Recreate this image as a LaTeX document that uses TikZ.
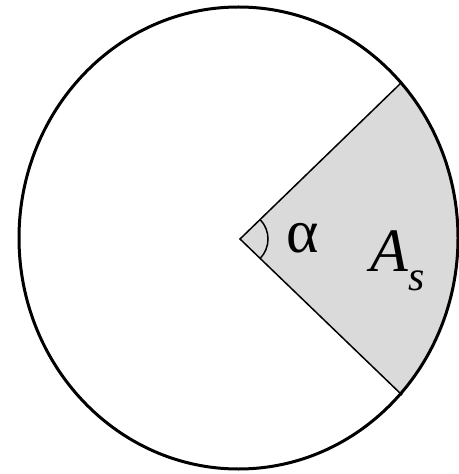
\documentclass[tikz,border=0pt]{standalone}
\usepackage{fontspec}
\setmainfont{Liberation Serif}
\begin{document}
\begin{tikzpicture}[x=1bp,y=-1bp,
  rim/.style={line width=3bp,black},
  ray/.style={line width=1.5bp,black},
  lbl/.style={inner sep=0pt,font=\fontsize{62}{62}\selectfont\itshape},
  grk/.style={inner sep=0pt,font=\fontsize{62}{62}\selectfont},
  sub/.style={inner sep=0pt,font=\fontsize{42}{42}\selectfont\itshape}]
\useasboundingbox (0,0) rectangle (459,474);
\definecolor{sector}{RGB}{218,218,218}
\coordinate (O) at (240,239);
\coordinate (P) at (402,82);
\coordinate (Q) at (402,395);
\begin{scope}
  \clip (238.5,238) ellipse [x radius=219.5, y radius=231];
  \fill[sector] (O) -- (564,-75) -- (564,553) -- cycle;
\end{scope}
\draw[ray] (P) -- (O) -- (Q);
\draw[ray] ([shift={(-44:28)}]O) arc[start angle=-44,end angle=44,radius=28];
\draw[rim] (238.5,238) ellipse [x radius=219.5, y radius=231];
\node[grk] (alpha) at (303,238) {α};
\node[lbl] (A) at (389,251) {A};
\node[sub] (s) at (417,281) {s};
\end{tikzpicture}
\end{document}
